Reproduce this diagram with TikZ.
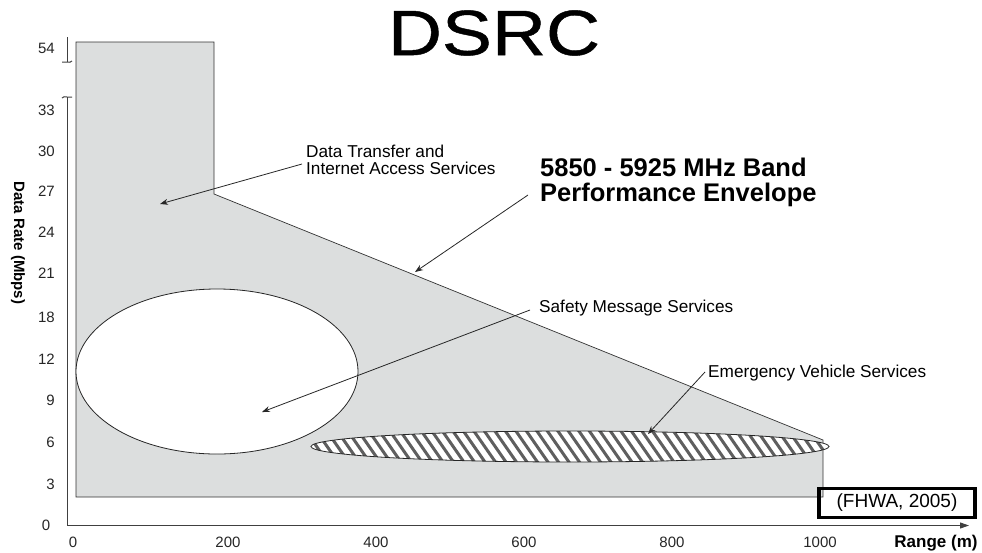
\documentclass[tikz,border=0pt]{standalone}
\usepackage{fontspec}
\setmainfont{Liberation Sans}
\newfontfamily\titlefont{Liberation Sans}[FakeBold=0.7]
\usetikzlibrary{arrows.meta}
\definecolor{envfill}{RGB}{220,222,222}
\definecolor{hatchgrey}{RGB}{95,95,95}
\begin{document}
\begin{tikzpicture}[x=1pt,y=-1pt,
  lbl/.style={font=\fontsize{17.2}{17}\selectfont, inner sep=0pt, anchor=west, align=left},
  ticklbl/.style={font=\fontsize{15}{15}\selectfont, inner sep=0pt, text=black!85},
  callout/.style={draw=black!85, line width=0.8pt, -{Stealth[length=8pt,width=6pt]}},
  axisline/.style={draw=black!75, line width=1pt},
]
\useasboundingbox (0,0) rectangle (982,552);

% title
\node (title) at (494,33) {\titlefont\fontsize{64}{64}\selectfont\scalebox{1.17}[1]{DSRC}};

% performance envelope
\draw[fill=envfill, draw=black!80, line width=0.7pt]
  (76,42) -- (214,42) -- (214,194) -- (823,440) -- (823,497) -- (76,497) -- cycle;

% safety message region
\draw[fill=white, draw=black!85, line width=0.8pt]
  (217,371.5) ellipse [x radius=141, y radius=82.5];

% emergency vehicle region (hatched)
\fill[white] (570,446.5) ellipse [x radius=259, y radius=15.5];
\begin{scope}
  \clip (570,446.5) ellipse [x radius=259, y radius=15.5];
  \foreach \k in {0,...,54}
    \draw[hatchgrey, line width=3pt] ({280+10.5*\k},424) -- ++(32,46);
\end{scope}
\draw[draw=black!85, line width=0.8pt]
  (570,446.5) ellipse [x radius=259, y radius=15.5];

% axes
\coordinate (yb) at (67,525.5);
\coordinate (yt) at (67,97);
\coordinate (ut) at (67,37);
\coordinate (ub) at (67,62);
\coordinate (xe) at (969,525.5);
\draw[axisline] (yb) -- (yt);
\draw[axisline] (ut) -- (ub);
\draw[axisline] (62,98) .. controls (64,96.5) .. (67,97) -- (72,97);
\draw[axisline] (62,62) -- (67,62) .. controls (70,62.5) .. (72,61);
\draw[axisline, -{Triangle[length=9pt,width=6pt]}] (yb) -- (xe);

% y tick labels
\foreach \v/\y in {54/48,33/110,30/151,27/191,24/232,21/273,18/317,12/359,9/400,6/442,3/484}
  \node[ticklbl, anchor=east] (y\v) at (55,\y) {\v};
\node[ticklbl] (y0) at (46,525) {0};

% x tick labels
\foreach \v/\x in {0/73,200/228,400/376,600/524,800/672,1000/820}
  \node[ticklbl] (x\v) at (\x,542) {\v};

% axis titles
\node[font=\fontsize{15}{15}\selectfont\bfseries, rotate=-90, inner sep=0pt] (ytitle) at (18,243) {Data Rate (Mbps)};
\node[font=\fontsize{17}{17}\selectfont\bfseries, inner sep=0pt] (xtitle) at (936,543) {Range (m)};

% labels
\node[lbl] (dt) at (306,160) {Data Transfer and\\Internet Access Services};
\node[lbl, font=\fontsize{25.5}{25}\selectfont\bfseries] (env) at (540,182) {5850 - 5925 MHz Band\\Performance Envelope};
\node[lbl] (safe) at (539,308) {Safety Message Services};
\node[lbl] (emerg) at (708,373) {Emergency Vehicle Services};

% source box
\node[draw=black, line width=3.5pt, minimum width=156, minimum height=29,
      font=\fontsize{19}{19}\selectfont] (src) at (897,503) {(FHWA, 2005)};

% callouts
\coordinate (dts) at (302,164);
\coordinate (dtt) at (160,204);
\coordinate (envs) at (528,195);
\coordinate (envt) at (415,272);
\coordinate (safs) at (530,310);
\coordinate (saft) at (262,412);
\coordinate (ems) at (705,372);
\coordinate (emt) at (648,434);
\draw[callout] (dts) -- (dtt);
\draw[callout] (envs) -- (envt);
\draw[callout] (safs) -- (saft);
\draw[callout] (ems) -- (emt);
\end{tikzpicture}
\end{document}
